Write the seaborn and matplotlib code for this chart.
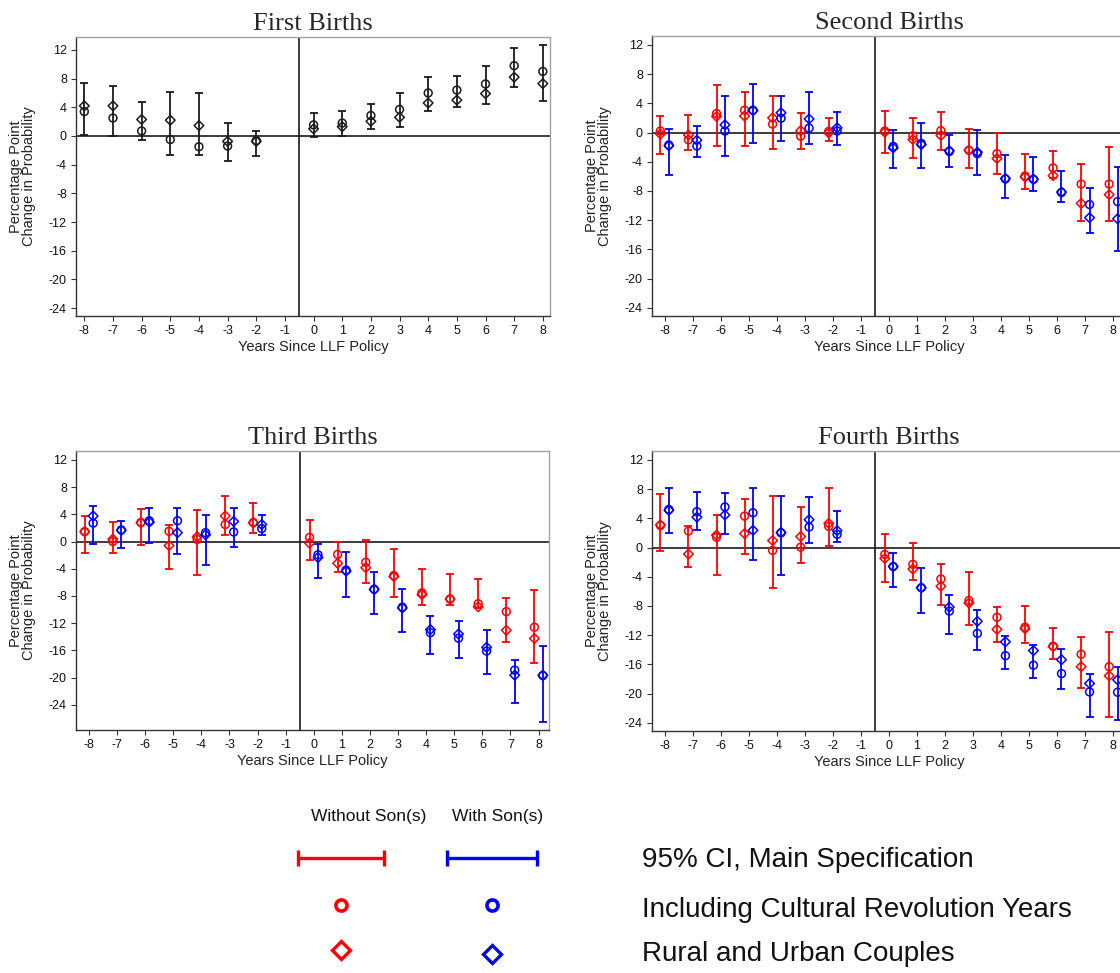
import numpy as np
import pandas as pd
import seaborn as sns
import matplotlib.pyplot as plt

sns.set_style("white")
plt.rcParams['font.family'] = ['Liberation Sans', 'DejaVu Sans']
plt.rcParams['axes.unicode_minus'] = False

# years shown on every panel (no estimate for -1)
years = [-8, -7, -6, -5, -4, -3, -2, 0, 1, 2, 3, 4, 5, 6, 7, 8]
xticks = list(range(-8, 9))
yticks = [12, 8, 4, 0, -4, -8, -12, -16, -20, -24]

# First births (one group)
first_lo = [0.1, 0.0, -0.5, -2.6, -2.65, -3.45, -2.85, -0.15, 0.0, 1.0, 1.2, 3.55, 4.0, 4.4, 6.8, 4.85]
first_hi = [7.45, 7.0, 4.7, 6.1, 6.0, 1.8, 0.75, 3.2, 3.55, 4.45, 6.0, 8.2, 8.4, 9.7, 12.3, 12.7]
first_circ = [3.4, 2.5, 0.7, -0.5, -1.5, -1.4, -0.65, 1.55, 1.8, 2.85, 3.7, 6.0, 6.4, 7.25, 9.8, 9.0]
first_diam = [4.2, 4.2, 2.3, 2.2, 1.45, -0.75, -0.75, 1.0, 1.3, 2.05, 2.6, 4.6, 5.0, 5.9, 8.2, 7.3]

# Second births
second_red_lo = [-2.9, -2.4, -1.85, -1.8, -2.2, -2.25, -1.1, -2.85, -3.45, -2.35, -4.9, -5.65, -7.75, -6.25, -12.1, -12.1]
second_red_hi = [2.3, 2.4, 6.45, 5.55, 5.0, 2.65, 2.05, 2.9, 1.95, 2.8, 0.5, -0.1, -2.95, -2.55, -4.3, -2.0]
second_red_circ = [0.2, -1.0, 2.6, 3.05, 1.15, -0.5, 0.15, 0.2, -0.45, 0.25, -2.45, -2.9, -5.95, -4.85, -7.05, -7.05]
second_red_diam = [-0.2, -0.35, 2.2, 2.25, 2.0, 0.25, -0.05, 0.05, -0.95, -0.4, -2.4, -3.55, -6.1, -5.9, -9.7, -8.5]
second_blue_lo = [-5.75, -3.4, -3.25, -1.45, -1.1, -1.6, -1.7, -4.9, -4.9, -4.75, -5.8, -8.9, -8.05, -9.55, -13.75, -16.25]
second_blue_hi = [0.45, 0.95, 5.0, 6.7, 5.05, 5.55, 2.85, 0.4, 1.3, -0.3, 0.3, -3.05, -3.4, -5.3, -7.6, -4.7]
second_blue_circ = [-1.7, -1.85, 0.2, 3.05, 1.95, 0.6, 0.2, -1.9, -1.5, -2.6, -2.9, -6.35, -6.4, -8.2, -9.85, -9.45]
second_blue_diam = [-1.8, -1.05, 1.05, 3.0, 2.7, 1.85, 0.65, -2.1, -1.65, -2.5, -2.7, -6.3, -6.4, -8.15, -11.65, -11.8]

# Third births
third_red_lo = [-1.75, -1.75, -0.5, -4.1, -4.9, 0.9, 1.3, -2.65, -4.5, -6.1, -8.1, -9.35, -9.35, -9.8, -14.8, -17.9]
third_red_hi = [3.75, 2.9, 4.8, 2.4, 4.6, 6.65, 5.6, 3.1, -0.1, 0.15, -1.1, -4.1, -4.8, -5.5, -8.35, -7.15]
third_red_circ = [1.45, 0.0, 2.8, 1.5, 0.3, 2.5, 2.8, 0.6, -1.9, -3.05, -5.0, -7.55, -8.45, -9.15, -10.3, -12.6]
third_red_diam = [1.45, 0.35, 2.75, -0.6, 0.7, 3.75, 2.75, -0.25, -3.2, -3.85, -5.15, -7.8, -8.45, -9.6, -13.05, -14.25]
third_blue_lo = [-0.4, -0.9, -0.2, -1.85, -3.4, -0.85, 0.95, -5.4, -8.2, -10.65, -13.3, -16.6, -17.05, -19.45, -23.7, -26.5]
third_blue_hi = [5.25, 3.0, 4.95, 4.95, 3.9, 4.9, 3.9, -0.35, -1.5, -4.5, -7.05, -11.0, -11.65, -13.0, -17.45, -15.4]
third_blue_circ = [2.7, 1.7, 3.05, 3.05, 1.3, 1.4, 1.9, -1.95, -4.2, -7.0, -9.65, -13.4, -14.2, -16.1, -18.9, -19.7]
third_blue_diam = [3.75, 1.65, 2.85, 1.3, 1.0, 2.95, 2.5, -2.35, -4.35, -7.05, -9.75, -12.95, -13.6, -15.55, -19.65, -19.65]

# Fourth births
fourth_red_lo = [-0.5, -2.65, -3.75, -0.95, -5.6, -2.1, 0.2, -4.75, -4.5, -7.85, -10.65, -12.9, -13.1, -15.2, -19.15, -23.2]
fourth_red_hi = [7.25, 3.0, 4.4, 6.7, 7.05, 5.6, 8.2, 1.85, 0.55, -2.25, -3.35, -8.15, -8.05, -11.0, -12.3, -11.55]
fourth_red_circ = [3.0, 2.25, 1.4, 4.3, -0.4, 0.05, 2.9, -0.95, -2.3, -4.3, -7.25, -9.55, -10.9, -13.5, -14.6, -16.3]
fourth_red_diam = [3.1, -0.9, 1.7, 1.9, 0.95, 1.5, 3.3, -1.5, -2.95, -5.3, -7.6, -11.2, -11.1, -13.55, -16.3, -17.55]
fourth_blue_lo = [2.0, 2.35, 1.9, -1.75, -3.8, 0.6, 0.8, -5.4, -9.0, -11.8, -14.05, -16.6, -17.8, -19.4, -23.2, -23.55]
fourth_blue_hi = [8.2, 7.55, 7.4, 8.1, 7.05, 6.95, 5.0, -0.75, -2.75, -6.45, -8.6, -12.15, -13.35, -13.95, -17.35, -16.35]
fourth_blue_circ = [5.2, 4.9, 5.55, 4.75, 2.0, 2.8, 1.8, -2.6, -5.5, -8.7, -11.75, -14.8, -16.1, -17.25, -19.75, -19.8]
fourth_blue_diam = [5.1, 4.15, 4.45, 2.35, 2.05, 3.8, 2.3, -2.6, -5.5, -8.15, -10.1, -12.9, -14.1, -15.35, -18.6, -18.1]

titles = ["First Births", "Second Births", "Third Births", "Fourth Births"]
legend_cols = ["Without Son(s)", "With Son(s)"]
legend_rows = ["95% CI, Main Specification", "Including Cultural Revolution Years", "Rural and Urban Couples"]

RED, BLUE, BLACK = "#ff0000", "#0000ff", "#1a1a1a"
W, H = 1120, 973

fig = plt.figure(figsize=(W / 100, H / 100), dpi=100)


def px_axes(left, top, right, bottom):
    return fig.add_axes([left / W, 1 - bottom / H, (right - left) / W, (bottom - top) / H])


def draw_group(ax, lo, hi, circ, diam, color, shift):
    df = pd.DataFrame({"year": np.array(years) + shift, "lo": lo, "hi": hi,
                       "circle": circ, "diamond": diam})
    mid = (df["lo"] + df["hi"]) / 2
    ax.errorbar(df["year"], mid, yerr=[mid - df["lo"], df["hi"] - mid], fmt="none",
                ecolor=color, elinewidth=1.3, capsize=2.7, capthick=1.3, zorder=2)
    sns.scatterplot(data=df, x="year", y="circle", marker="o", s=32, color=color,
                    facecolors="none", edgecolor=color, linewidth=1.1, ax=ax, zorder=3)
    sns.scatterplot(data=df, x="year", y="diamond", marker="D", s=24, color=color,
                    facecolors="none", edgecolor=color, linewidth=1.1, ax=ax, zorder=3)


def style_axes(ax, title, xlim, ylim):
    ax.axhline(0, color=BLACK, lw=1.2, zorder=1)
    ax.axvline(-0.5, color=BLACK, lw=1.2, zorder=1)
    ax.set_xlim(*xlim)
    ax.set_ylim(*ylim)
    ax.set_xticks(xticks)
    ax.set_yticks(yticks)
    ax.tick_params(bottom=True, left=True, direction="out", length=3.5, width=0.8,
                   color="#333333", labelsize=9, pad=3, labelcolor="#111111")
    for side in ["left", "bottom"]:
        ax.spines[side].set_color("#333333")
        ax.spines[side].set_linewidth(1.0)
    for side in ["top", "right"]:
        ax.spines[side].set_color("#a0a0a0")
        ax.spines[side].set_linewidth(1.0)
    ax.set_title(title, fontfamily=["Liberation Serif", "DejaVu Serif"], fontsize=19, pad=5)
    ax.set_xlabel("Years Since LLF Policy", fontsize=10.5, labelpad=2, color="#222222")
    ax.set_ylabel("Percentage Point\nChange in Probability", fontsize=10.5,
                  linespacing=0.85, color="#222222")
    ax.yaxis.set_label_coords(-0.085, 0.5)


ax1 = px_axes(76, 37, 550, 316)
draw_group(ax1, first_lo, first_hi, first_circ, first_diam, BLACK, 0.0)
style_axes(ax1, titles[0], (-8.29, 8.25), (-25.1, 13.8))

ax2 = px_axes(652, 36, 1126, 316)
draw_group(ax2, second_red_lo, second_red_hi, second_red_circ, second_red_diam, RED, -0.15)
draw_group(ax2, second_blue_lo, second_blue_hi, second_blue_circ, second_blue_diam, BLUE, 0.15)
style_axes(ax2, titles[1], (-8.45, 8.45), (-25.1, 13.2))

ax3 = px_axes(76, 451, 549, 730)
draw_group(ax3, third_red_lo, third_red_hi, third_red_circ, third_red_diam, RED, -0.15)
draw_group(ax3, third_blue_lo, third_blue_hi, third_blue_circ, third_blue_diam, BLUE, 0.15)
style_axes(ax3, titles[2], (-8.46, 8.37), (-27.7, 13.3))

ax4 = px_axes(652, 451, 1126, 731)
draw_group(ax4, fourth_red_lo, fourth_red_hi, fourth_red_circ, fourth_red_diam, RED, -0.15)
draw_group(ax4, fourth_blue_lo, fourth_blue_hi, fourth_blue_circ, fourth_blue_diam, BLUE, 0.15)
style_axes(ax4, titles[3], (-8.45, 8.45), (-25.1, 13.2))

# legend drawn in a pixel-space overlay
lax = fig.add_axes([0, 0, 1, 1], zorder=-1)
lax.set_xlim(0, W)
lax.set_ylim(H, 0)
lax.axis("off")
key_x = [341, 492]
key_half = [43, 45]
head_x = [369, 498]
row_y = [858, 905, 950]
for cx, half, hx, color, head in zip(key_x, key_half, head_x, [RED, BLUE], legend_cols):
    lax.text(hx, 816, head, ha="center", va="center", fontsize=12.5, color="#111111")
    lax.errorbar([cx], [row_y[0]], xerr=[half], fmt="none", ecolor=color,
                 elinewidth=2.4, capsize=5.5, capthick=2.4)
    lax.plot([cx], [row_y[1]], marker="o", ms=8, mfc="none", mec=color, mew=2.6)
    lax.plot([cx], [row_y[2] + (4 if color == BLUE else 0)], marker="D", ms=9,
             mfc="none", mec=color, mew=2.4)
for label, y in zip(legend_rows, [860, 910, 954]):
    lax.text(642, y, label, ha="left", va="center", fontsize=20, color="#111111")

fig.savefig("out.png", dpi=100)
